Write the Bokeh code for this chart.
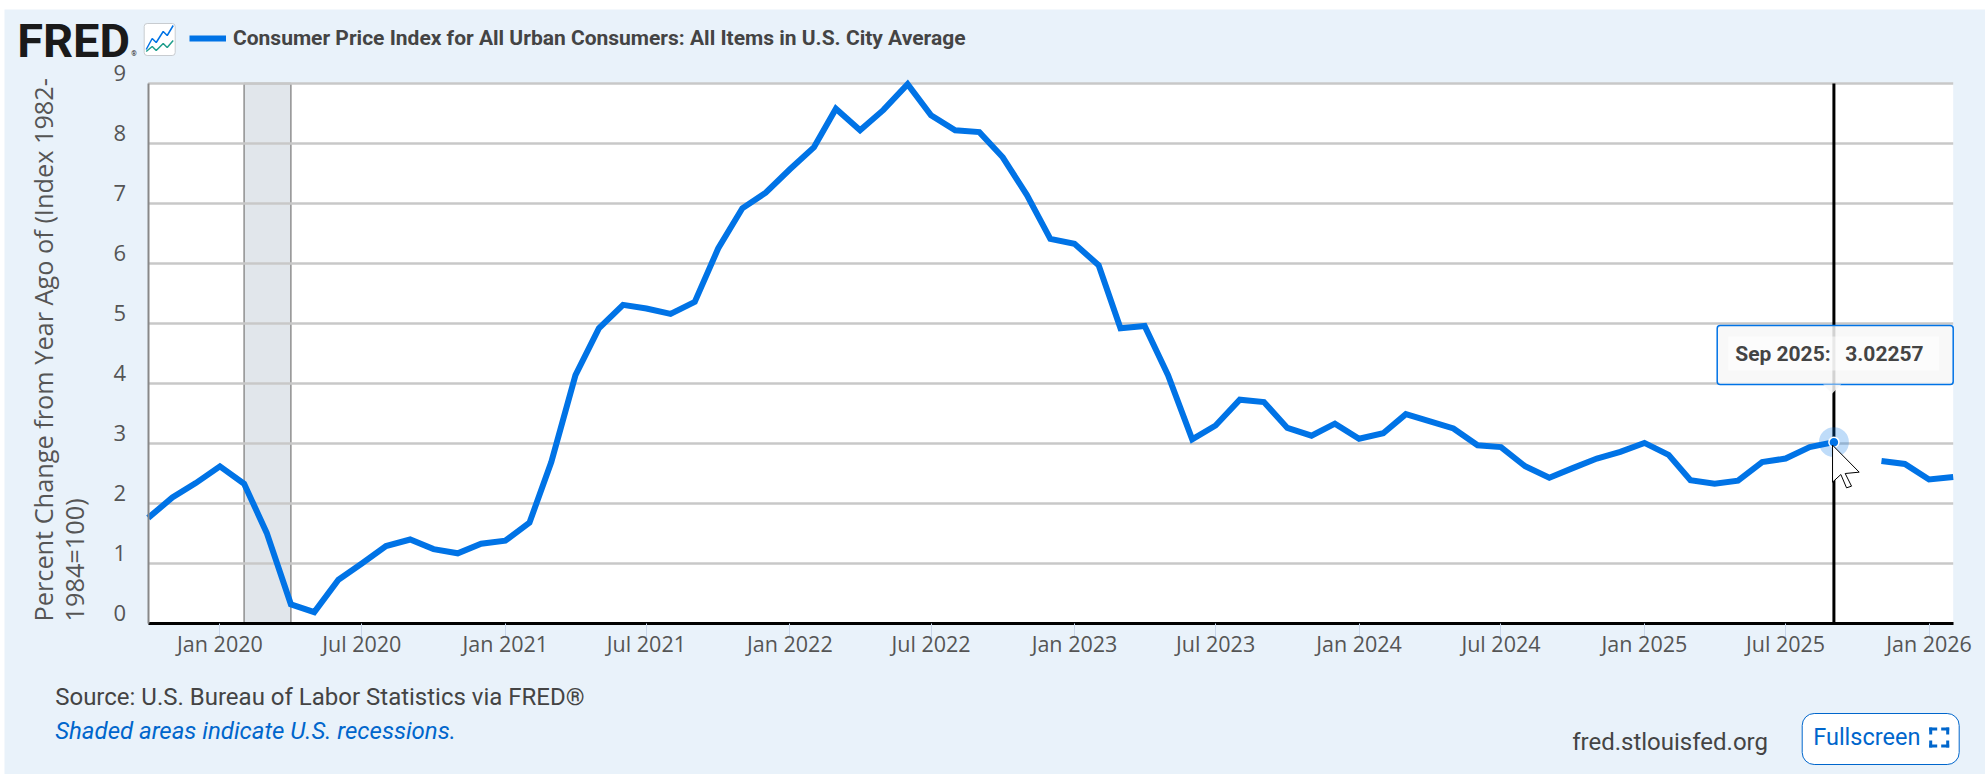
import numpy as np
import pandas as pd
from bokeh.plotting import figure
from bokeh.embed import file_html
from bokeh.resources import INLINE
from bokeh.models import (Label, BoxAnnotation, PolyAnnotation, Legend, LegendItem,
                          FixedTicker, Range1d)

SERIES_NAME = "Consumer Price Index for All Urban Consumers: All Items in U.S. City Average"
dates = pd.date_range("2019-10-01", "2026-02-01", freq="MS")
cpi_yoy = [
    1.76, 2.10, 2.34,
    2.62, 2.33, 1.51, 0.32, 0.19, 0.73, 1.00, 1.29, 1.40, 1.24, 1.17, 1.33,
    1.38, 1.68, 2.69, 4.14, 4.92, 5.31, 5.25, 5.16, 5.36, 6.25, 6.92, 7.18,
    7.57, 7.94, 8.58, 8.22, 8.56, 8.99, 8.47, 8.22, 8.19, 7.77, 7.14, 6.41,
    6.33, 5.97, 4.92, 4.96, 4.14, 3.07, 3.30, 3.73, 3.69, 3.26, 3.13, 3.33,
    3.08, 3.17, 3.49, 3.37, 3.25, 2.97, 2.94, 2.62, 2.43, 2.59, 2.75, 2.86,
    3.01, 2.81, 2.39, 2.33, 2.38, 2.69, 2.75, 2.94, 3.02257, float("nan"), 2.71, 2.66,
    2.40, 2.44,
]
tick_dates = ["2020-01-01","2020-07-01","2021-01-01","2021-07-01","2022-01-01","2022-07-01",
              "2023-01-01","2023-07-01","2024-01-01","2024-07-01","2025-01-01","2025-07-01","2026-01-01"]
tick_labels = ["Jan 2020","Jul 2020","Jan 2021","Jul 2021","Jan 2022","Jul 2022",
               "Jan 2023","Jul 2023","Jan 2024","Jul 2024","Jan 2025","Jul 2025","Jan 2026"]
y_ticks = [0,1,2,3,4,5,6,7,8,9]
recession = ("2020-02-01", "2020-04-01")
hover_date = "2025-09-01"
hover_value = 3.02257

def ms(d):
    return pd.Timestamp(d).value / 1e6

BLUE = "#0073e6"
PANEL = "#e9f2fa"
x0, x1 = ms(dates[0]), ms(dates[-1])
L, R, T, B = 149, 1954, 84, 624
PANEL_L, PANEL_T, W, H = 4, 9, 1981, 765
NUDGE_X, NUDGE_Y = 1.3, 1.0

def X(px): return x0 + (px - L) / (R - L) * (x1 - x0)
def Y(py): return (B - py) / (B - T) * 9

# The frame is the whole panel, so that every text outside the plot area is drawn
p = figure(width=W, height=H, output_backend="svg", toolbar_location=None,
           x_axis_type="datetime",
           x_range=Range1d(X(PANEL_L+NUDGE_X), X(PANEL_L+W+NUDGE_X)),
           y_range=Range1d(Y(PANEL_T+H+NUDGE_Y), Y(PANEL_T+NUDGE_Y)),
           min_border=0, min_border_left=0, min_border_right=0, min_border_top=0, min_border_bottom=0,
           border_fill_color=PANEL, background_fill_color=PANEL,
           margin=(PANEL_T, 0, 0, PANEL_L))
p.outline_line_color = None
p.xgrid.visible = False
p.ygrid.visible = False

# plot area
p.quad(left=[x0], right=[x1], bottom=[0], top=[9], fill_color="white", line_color=None)

# recession
p.quad(left=[ms(recession[0])], right=[ms(recession[1])], bottom=[0], top=[9],
       fill_color="#e1e6eb", line_color="#8f8f8f", line_width=1.5)

# grid
p.segment(x0=[x0]*len(y_ticks), x1=[x1]*len(y_ticks), y0=y_ticks, y1=y_ticks,
          line_color="#c8c8c8", line_width=2.5)

# axes
xa = p.xaxis[0]
xa.fixed_location = 0
xa.bounds = (x0, x1)
xa.ticker = FixedTicker(ticks=[ms(d) for d in tick_dates])
xa.major_label_overrides = {ms(d): t for d, t in zip(tick_dates, tick_labels)}
xa.major_tick_out = 14
xa.major_tick_in = 0
xa.minor_tick_out = 0
xa.minor_tick_in = 0
xa.major_tick_line_color = "#c9d6ea"
xa.major_tick_line_width = 1
xa.axis_line_color = "black"
xa.axis_line_width = 3
xa.major_label_text_font = "Open Sans"
xa.major_label_text_font_size = "21.5px"
xa.major_label_text_color = "#555555"
xa.major_label_standoff = -9

ya = p.yaxis[0]
ya.fixed_location = x0
ya.bounds = (0, 9)
ya.ticker = FixedTicker(ticks=y_ticks)
ya.major_tick_line_color = None
ya.minor_tick_line_color = None
ya.axis_line_color = "#888888"
ya.axis_line_width = 2
ya.major_label_text_color = None
ya.major_label_text_font_size = "1px"

# crosshair
p.segment(x0=[ms(hover_date)], x1=[ms(hover_date)], y0=[0], y1=[9], line_color="black", line_width=3)

# series
line = p.line([ms(d) for d in dates], cpi_yoy, line_color=BLUE, line_width=6, line_join="miter")

# hover marker
p.scatter([ms(hover_date)], [hover_value], size=30, fill_color=BLUE, fill_alpha=0.25, line_color=None)
p.scatter([ms(hover_date)], [hover_value], size=10, fill_color=BLUE, line_color="white", line_width=1.5)

# legend
leg = Legend(items=[LegendItem(label=SERIES_NAME, renderers=[line])], location=(185, 724),
             background_fill_alpha=0, border_line_alpha=0, glyph_width=37, glyph_height=10,
             label_text_font="Roboto", label_text_font_style="bold", label_text_font_size="21px",
             label_text_color="#444444", padding=0, margin=0, spacing=0, label_standoff=7)
p.add_layout(leg)

def text(px, py, s, font="Open Sans", size="20px", color="#555555", style="normal",
         align="left", baseline="middle", angle=0):
    p.add_layout(Label(x=X(px), y=Y(py), text=s, text_font=font, text_font_size=size,
                       text_color=color, text_font_style=style, text_align=align,
                       text_baseline=baseline, angle=angle))

def poly(pts, fill=None, fill_alpha=0.0, line=None, width=1.0):
    p.add_layout(PolyAnnotation(xs=[X(a) for a, _ in pts], ys=[Y(b) for _, b in pts],
                 fill_color=fill or "white", fill_alpha=fill_alpha,
                 line_color=line or "white", line_width=width, line_alpha=1 if line else 0))

def box(l, r, t, b, fill, fill_alpha=1.0, line=None, width=1.0, radius=0):
    p.add_layout(BoxAnnotation(left=X(l), right=X(r), top=Y(t), bottom=Y(b),
                 fill_color=fill, fill_alpha=fill_alpha,
                 line_color=line or fill, line_width=width, line_alpha=1 if line else 0,
                 border_radius=radius))

# y tick labels (drawn above their grid lines, as FRED does)
for v in y_ticks:
    p.add_layout(Label(x=X(127), y=v, y_offset=11, text=str(v), text_font="Open Sans",
                       text_font_size="22px", text_color="#555555",
                       text_align="right", text_baseline="middle"))

# y axis title, two lines
text(44, 622, "Percent Change from Year Ago of (Index 1982-", size="25.3px", angle=np.pi/2)
text(75, 622, "1984=100)", size="25.3px", angle=np.pi/2)

# logo
text(18, 41, "FRED", font="Roboto", size="47px", color="#1a1a1a", style="bold")
text(132, 54, "®", font="Roboto", size="7px", color="#1a1a1a")
box(145, 176, 24, 56, "white", 1, "#c8ccd0", 1, 3)
def zig(pts, col):
    poly(pts + pts[::-1], line=col, width=1.5)
zig([(147,50),(153,39),(157,43),(164,32),(168,36),(174,26)], BLUE)
zig([(147,52),(153,47),(157,51),(164,44),(168,48),(174,41)], "#1f9e8c")

# footer
text(56, 697, "Source: U.S. Bureau of Labor Statistics via FRED®", font="Roboto", size="24px", color="#444444")
text(56, 731, "Shaded areas indicate U.S. recessions.", font="Roboto", size="24px", color="#0066cc", style="italic")
text(1573, 742, "fred.stlouisfed.org", font="Roboto", size="24px", color="#444444")
box(1803, 1960, 714, 765, "white", 1, "#0066cc", 1, 12)
text(1814, 737, "Fullscreen", font="Roboto", size="23.5px", color="#0066cc")
for l, r, t, b in [(1930,1938,728,731),(1942,1950,728,731),(1930,1938,745,748),(1942,1950,745,748),
                   (1930,1933,728,735),(1947,1950,728,735),(1930,1933,741,748),(1947,1950,741,748)]:
    box(l, r, t, b, "#0066cc")

# tooltip
box(1718, 1954, 326, 385, "#f7f7f7", 0.85, BLUE, 1.5, 3)
poly([(1824,385),(1833,394),(1842,385)], fill="#f7f7f7", fill_alpha=0.85)
box(1729, 1940, 337, 371, "white", 0.5)
text(1736, 354, "Sep 2025:", font="Roboto", size="21px", color="#444444", style="bold")
text(1846, 354, "3.02257", font="Roboto", size="21px", color="#444444", style="bold")

# cursor
poly([(1500+a/3, 300+b/3) for a, b in [(1000,437),(1080,518),(1038,522),(1057,560),(1042,565),(1025,525),(1000,548)]],
     fill="white", fill_alpha=1, line="black", width=1)

open("out.html", "w").write(file_html(p, INLINE))
